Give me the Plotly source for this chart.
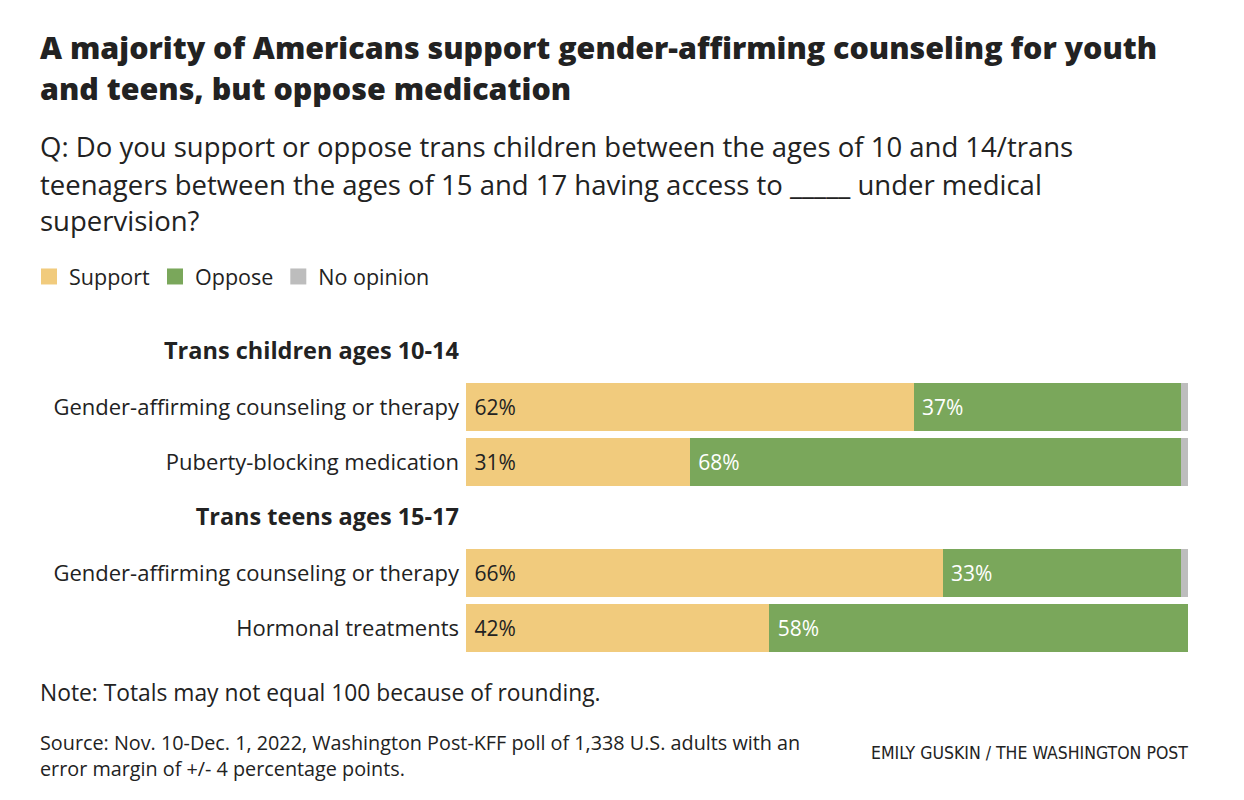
import plotly.graph_objects as go

# rows from top to bottom, headers have no bars
row_keys = ["h1", "r1", "r2", "h2", "r3", "r4"]
row_labels = [
    "<b><span style='font-size:23.5px'>Trans children ages 10-14</span></b>",
    "Gender-affirming counseling or therapy",
    "Puberty-blocking medication",
    "<b><span style='font-size:23.5px'>Trans teens ages 15-17</span></b>",
    "Gender-affirming counseling or therapy",
    "Hormonal treatments",
]
bar_keys = ["r1", "r2", "r3", "r4"]
support = [62, 31, 66, 42]
oppose = [37, 68, 33, 58]
no_opinion = [1, 1, 1, 1]
series_names = ["Support", "Oppose", "No opinion"]

SUPPORT_COLOR = "#f1cb7d"
OPPOSE_COLOR = "#7aa75b"
NOOP_COLOR = "#bdbdbd"
colors = [SUPPORT_COLOR, OPPOSE_COLOR, NOOP_COLOR]
FONT = "Open Sans"
NARROW = "DejaVu Sans Condensed, Roboto Condensed, Liberation Sans Narrow, Roboto"

# page has an 8px body margin, so screen coords = figure coords + 8
OFF = 8
W, H = 1244, 800
L, R, T, B = 458, 64, 316, 152


def py(y):
    # screen pixel row -> paper y
    return ((H - B) - (y - OFF)) / (H - T - B)


def px(x):
    return ((x - OFF) - L) / (W - L - R)


fig = go.Figure()
fig.add_trace(go.Bar(
    y=bar_keys, x=support, name="Support", orientation="h", showlegend=False,
    marker_color=SUPPORT_COLOR, marker_line_width=0,
    text=[f"\u00a0{v}%" for v in support], textposition="inside", insidetextanchor="start",
    textfont=dict(color="#222222", size=21, family=FONT),
))
fig.add_trace(go.Bar(
    y=bar_keys, x=oppose, name="Oppose", orientation="h", showlegend=False,
    marker_color=OPPOSE_COLOR, marker_line_width=0,
    text=[f"\u00a0{v}%" for v in oppose], textposition="inside", insidetextanchor="start",
    textfont=dict(color="white", size=21, family=FONT),
))
fig.add_trace(go.Bar(
    y=bar_keys, x=no_opinion, name="No opinion", orientation="h", showlegend=False,
    marker_color=NOOP_COLOR, marker_line_width=0, textposition="none",
))

# legend entries with bigger square swatches
for name, color in zip(series_names, colors):
    fig.add_trace(go.Scatter(
        x=[None], y=[None], mode="markers", name=name,
        marker=dict(symbol="square", size=16, color=color),
    ))

fig.update_layout(
    barmode="stack",
    bargap=0.13,
    width=W, height=H,
    margin=dict(l=L, r=R, t=T, b=B),
    plot_bgcolor="white", paper_bgcolor="white",
    font=dict(family=FONT, color="#222222", size=20),
    showlegend=True,
    legend=dict(
        orientation="h", xref="container", yref="container",
        x=21 / W, y=1 - 248 / H, xanchor="left", yanchor="top",
        font=dict(size=21.5, color="#222222", family=FONT), traceorder="normal",
        itemwidth=30,
    ),
    xaxis=dict(range=[0, 100], visible=False, fixedrange=True),
    yaxis=dict(
        type="category", categoryorder="array", categoryarray=row_keys,
        tickvals=row_keys, ticktext=row_labels, range=[5.5, -0.5],
        showgrid=False, zeroline=False, ticks="", ticklabelstandoff=6,
        tickfont=dict(size=22, color="#222222", family=FONT),
    ),
)

notes = [
    ("A majority of Americans support gender-affirming counseling for youth", 47, 30.4, FONT, 800),
    ("and teens, but oppose medication", 88, 30.4, FONT, 800),
    ("Q: Do you support or oppose trans children between the ages of 10 and 14/trans", 146, 27.5, FONT, 400),
    ("teenagers between the ages of 15 and 17 having access to _____ under medical", 184, 27.5, FONT, 400),
    ("supervision?", 221, 27.5, FONT, 400),
    ("Note: Totals may not equal 100 because of rounding.", 692, 22.8, FONT, 400),
    ("Source: Nov. 10-Dec. 1, 2022, Washington Post-KFF poll of 1,338 U.S. adults with an", 742, 19.8, FONT, 400),
    ("error margin of +/- 4 percentage points.", 768, 19.8, FONT, 400),
]
for text, y, size, family, weight in notes:
    fig.add_annotation(
        text=text,
        xref="paper", yref="paper", x=px(38), y=py(y),
        xanchor="left", yanchor="middle", showarrow=False,
        font=dict(size=size, color="#222222", family=family, weight=weight),
    )

fig.add_annotation(
    text="EMILY GUSKIN / THE WASHINGTON POST",
    xref="paper", yref="paper", x=px(1190), y=py(753),
    xanchor="right", yanchor="middle", showarrow=False,
    font=dict(size=17.5, color="#222222", family=NARROW),
)

fig.write_html("out.html")
